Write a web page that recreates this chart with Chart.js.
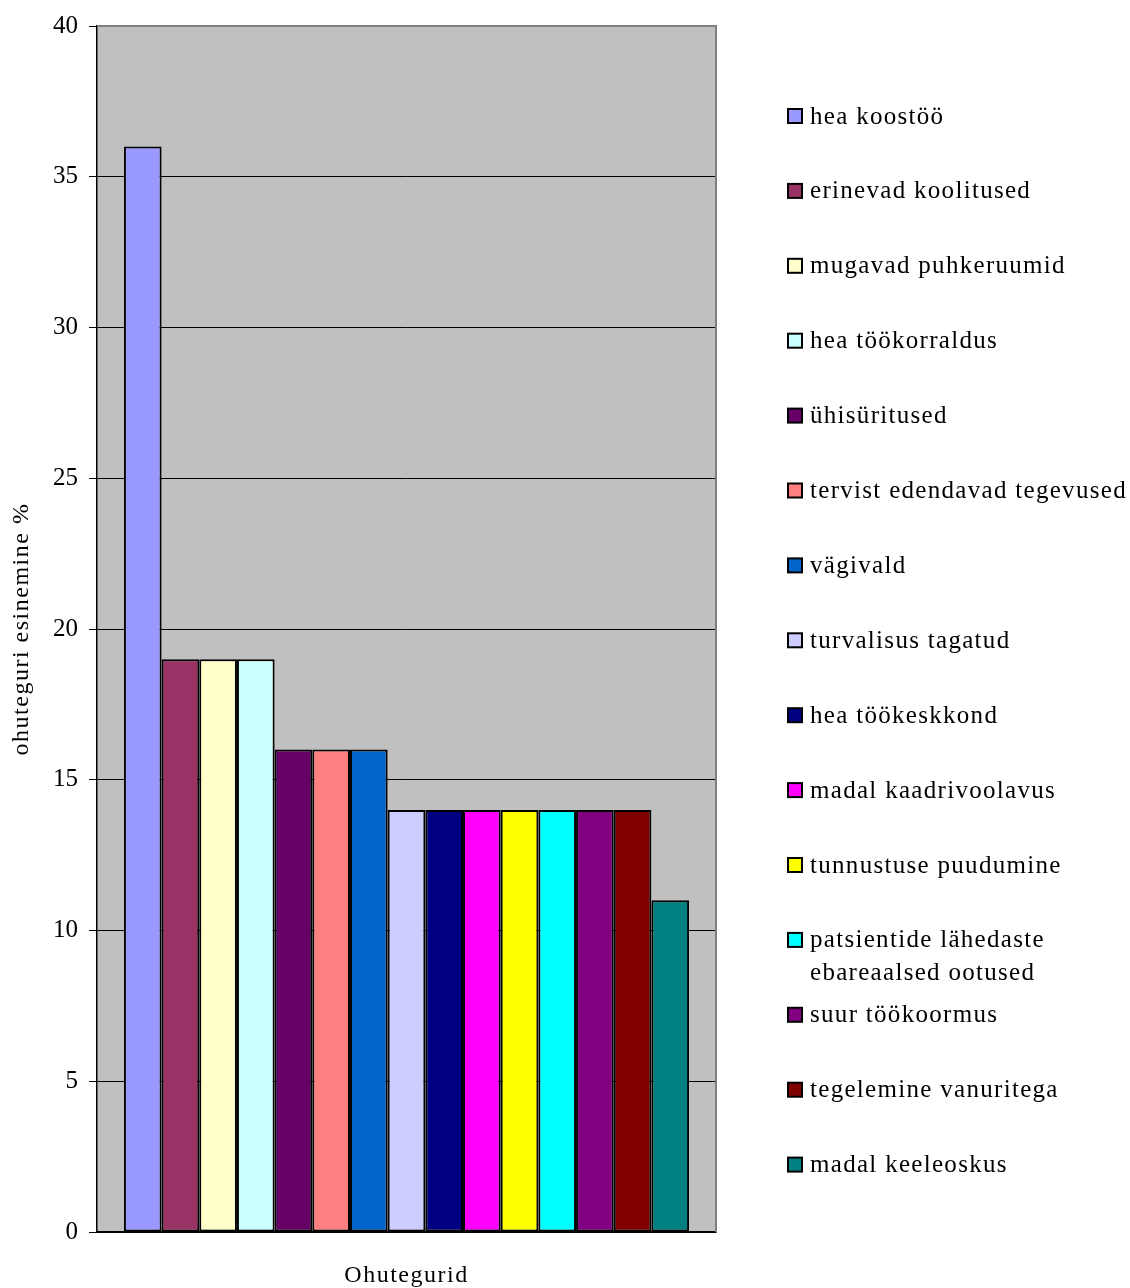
<!DOCTYPE html>
<html>
<head>
<meta charset="utf-8">
<script src="https://cdn.jsdelivr.net/npm/chart.js@4/dist/chart.umd.min.js"></script>
<style>
  html, body { margin: 0; padding: 0; background: #ffffff; }
  #wrap { width: 1130px; height: 1288px; position: relative; }
  canvas { display: block; }
</style>
</head>
<body>
<div id="wrap"><canvas id="chart" width="1130" height="1288"></canvas></div>
<script>
// Survey categories (one bar each); "\n" marks a wrapped legend line
const categories = [
  'hea koostöö',
  'erinevad koolitused',
  'mugavad puhkeruumid',
  'hea töökorraldus',
  'ühisüritused',
  'tervist edendavad tegevused',
  'vägivald',
  'turvalisus tagatud',
  'hea töökeskkond',
  'madal kaadrivoolavus',
  'tunnustuse puudumine',
  'patsientide lähedaste\nebareaalsed ootused',
  'suur töökoormus',
  'tegelemine vanuritega',
  'madal keeleoskus'
];
// Occurrence, percent
const values = [36, 19, 19, 19, 16, 16, 16, 14, 14, 14, 14, 14, 14, 14, 11];
const colors = [
  '#9999FF', '#993366', '#FFFFCC', '#CCFFFF', '#660066',
  '#FF8080', '#0066CC', '#CCCCFF', '#000080', '#FF00FF',
  '#FFFF00', '#00FFFF', '#800080', '#800000', '#008080'
];
const yTicks = [0, 5, 10, 15, 20, 25, 30, 35, 40];
const yTitle = 'ohuteguri esinemine %';
const xTitle = 'Ohutegurid';

const SERIF = '"Liberation Serif", "Times New Roman", serif';

// Grey plot area, frame, axis titles and the side legend
const decor = {
  id: 'decor',
  beforeDraw(chart) {
    const { ctx, chartArea: a } = chart;
    ctx.save();
    ctx.fillStyle = '#C0C0C0';
    ctx.fillRect(a.left, a.top, a.right - a.left, a.bottom - a.top);
    ctx.restore();
  },
  afterDraw(chart) {
    const { ctx, chartArea: a } = chart;
    ctx.save();
    // frame on top and right
    ctx.strokeStyle = '#808080';
    ctx.lineWidth = 2;
    ctx.beginPath();
    ctx.moveTo(a.left, a.top);
    ctx.lineTo(a.right, a.top);
    ctx.lineTo(a.right, a.bottom);
    ctx.stroke();

    ctx.fillStyle = '#000';
    ctx.font = '24px ' + SERIF;
    ctx.letterSpacing = '1.5px';
    ctx.textAlign = 'center';
    ctx.textBaseline = 'middle';
    // x-axis title
    ctx.fillText(xTitle, (a.left + a.right) / 2, 1276);
    // y-axis title
    ctx.save();
    ctx.translate(22, (a.top + a.bottom) / 2);
    ctx.rotate(-Math.PI / 2);
    ctx.fillText(yTitle, 0, 0);
    ctx.restore();

    // legend
    ctx.textAlign = 'left';
    ctx.textBaseline = 'middle';
    ctx.font = '25px ' + SERIF;
    ctx.letterSpacing = '1.3px';
    const x0 = 788, startY = 116, step = 74.9, box = 14, lineH = 33;
    chart.data.datasets.forEach((ds, i) => {
      const cy = startY + i * step;
      ctx.fillStyle = ds.backgroundColor;
      ctx.fillRect(x0, cy - box / 2, box, box);
      ctx.strokeStyle = '#000';
      ctx.lineWidth = 2;
      ctx.strokeRect(x0, cy - box / 2, box, box);
      ctx.fillStyle = '#000';
      ds.label.split('\n').forEach((line, j) => {
        ctx.fillText(line, 810, cy + j * lineH + 1);
      });
    });
    ctx.restore();
  }
};

new Chart(document.getElementById('chart'), {
  type: 'bar',
  data: {
    labels: [''],
    datasets: categories.map((label, i) => ({
      label,
      data: [values[i]],
      backgroundColor: colors[i],
      borderColor: '#000',
      borderWidth: 2,
      borderSkipped: false,
      categoryPercentage: 0.913,
      barPercentage: 1
    }))
  },
  options: {
    responsive: false,
    animation: false,
    devicePixelRatio: 1,
    layout: { padding: { top: 24, right: 414, left: 0, bottom: 0 } },
    plugins: { legend: { display: false }, tooltip: { enabled: false } },
    scales: {
      x: {
        grid: { display: false },
        border: { color: '#000', width: 1.5 },
        ticks: { display: false },
        afterFit(s) { s.height = 56; }
      },
      y: {
        min: 0,
        max: 40,
        afterBuildTicks(s) { s.ticks = yTicks.map(v => ({ value: v })); },
        ticks: {
          color: '#000',
          padding: 11,
          font: { family: SERIF, size: 25 }
        },
        grid: { color: '#000', lineWidth: 1, tickLength: 8, tickColor: '#000' },
        border: { color: '#000', width: 1.5 },
        afterFit(s) { s.width = 97; }
      }
    }
  },
  plugins: [decor]
});
</script>
</body>
</html>
